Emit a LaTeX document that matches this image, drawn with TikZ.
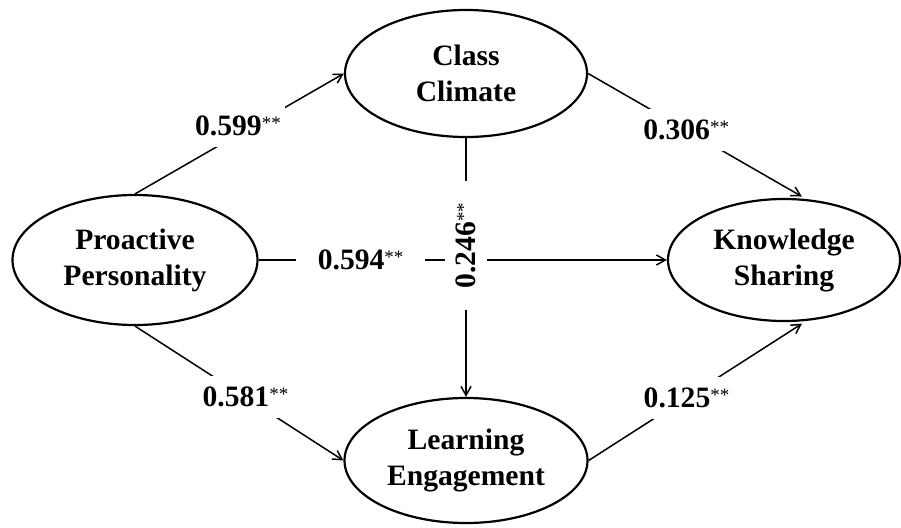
\documentclass[tikz,border=0pt]{standalone}
\usepackage{fontspec}
\setmainfont{Liberation Serif}
\usetikzlibrary{arrows.meta,shapes.geometric}
\newcommand{\sig}{\raisebox{6pt}{\fontsize{19}{19}\selectfont\mdseries **}}

\begin{document}
\begin{tikzpicture}[x=1pt,y=-1pt,
    latent/.style={ellipse,draw,line width=2.2pt,inner sep=0pt,align=center,
      font=\fontsize{29.6}{36}\selectfont\bfseries},
    coef/.style={fill=white,inner xsep=4pt,inner ysep=11pt,
      font=\fontsize{29.6}{36}\selectfont\bfseries},
    arr/.style={-{Straight Barb[length=9pt,width=10pt]},line width=1.5pt}
  ]
    \useasboundingbox (0,0) rectangle (901,527);
    \node[latent,minimum width=245pt,minimum height=130pt] (pp) at (135,260) {Proactive\\Personality};
    \node[latent,minimum width=242pt,minimum height=127pt] (cc) at (466,73.5) {Class\\Climate};
    \node[latent,minimum width=232pt,minimum height=122pt] (ks) at (784,260) {Knowledge\\Sharing};
    \node[latent,minimum width=243pt,minimum height=125pt] (le) at (466,460.5) {Learning\\Engagement};
    \draw[arr] (pp.north) -- node[coef,pos=0.493,yshift=8.5pt] {0.599\sig} (cc.west);
    \draw[arr] (pp.south) -- node[coef,pos=0.53] {0.581\sig} (le.west);
    \draw[arr,shorten >=5pt] (cc.east) -- node[coef,pos=0.45] {0.306\sig} (ks.70);
    \draw[arr,shorten >=5pt] (le.east) -- node[coef,pos=0.45] {0.125\sig} (ks.-70);
    \draw[arr] (pp.east) -- node[coef,pos=0.25,inner xsep=22pt] {0.594\sig} (ks.west);
    \draw[arr] (cc.south) -- node[coef,pos=0.415,rotate=90,inner xsep=22pt] {0.246\sig} (le.north);
  \end{tikzpicture}
\end{document}
